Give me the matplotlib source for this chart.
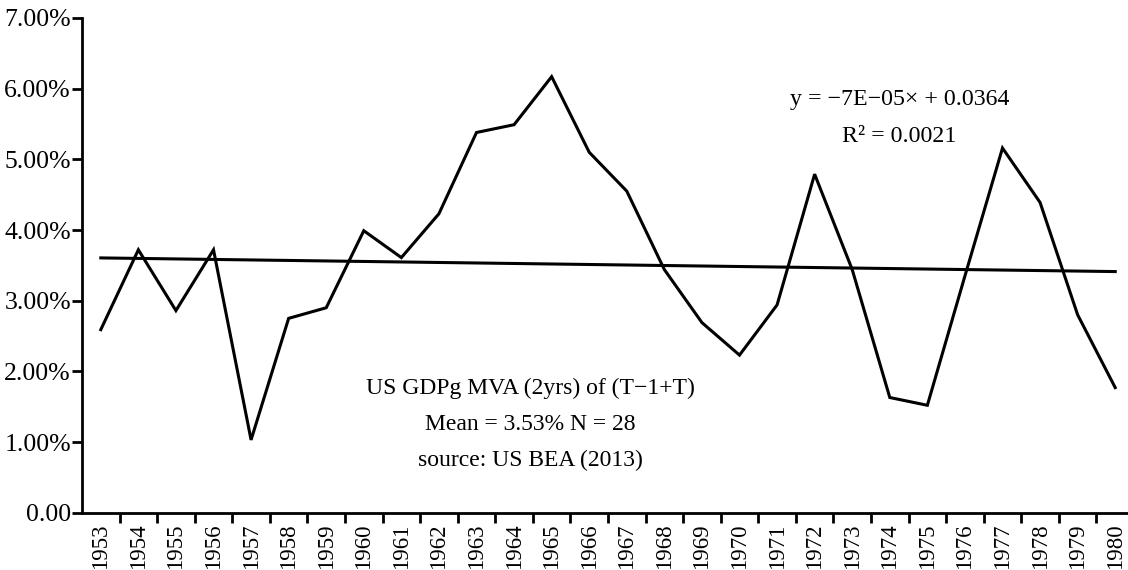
import matplotlib
matplotlib.use("Agg")
import matplotlib.pyplot as plt
import numpy as np
from matplotlib.ticker import FuncFormatter, FixedLocator

plt.rcParams["font.family"] = ["Liberation Serif", "DejaVu Serif"]

years = list(range(1953, 1981))
gdp_mva = [2.59, 3.72, 2.86, 3.72, 1.03, 2.75, 2.90, 3.99, 3.61, 4.23,
           5.38, 5.49, 6.17, 5.10, 4.55, 3.44, 2.69, 2.23, 2.94, 4.79,
           3.44, 1.63, 1.52, 3.35, 5.16, 4.39, 2.80, 1.77]
y_ticks = [0, 1, 2, 3, 4, 5, 6, 7]

W, H = 1128, 570
fig = plt.figure(figsize=(W / 100, H / 100), dpi=100)
ax = fig.add_axes([82 / W, 1 - 512.7 / H, (1134 - 82) / W, (512.7 - 18) / H])

x = np.arange(len(years))
vals = np.array(gdp_mva) / 100
ax.plot(x, vals, color="black", lw=2.2, solid_joinstyle="miter")

# linear trend (Excel style, x = 1..N)
k, b = np.polyfit(x + 1, vals, 1)
ax.plot(x, k * (x + 1) + b, color="black", lw=2.2)

ax.set_xlim(-0.5, len(years) - 0.5)
ax.set_ylim(0, 0.07)
ax.set_yticks([t / 100 for t in y_ticks])
ax.yaxis.set_major_formatter(FuncFormatter(lambda v, p: "0.00" if v == 0 else f"{v * 100:.2f}%"))

ax.set_xticks(x)
ax.set_xticklabels([str(y) for y in years], rotation=90)
ax.xaxis.set_minor_locator(FixedLocator(x[:-1] + 0.5))
ax.tick_params(axis="x", which="major", length=0, pad=8, labelsize=16.5)
ax.tick_params(axis="x", which="minor", length=7, width=2, direction="out")
ax.tick_params(axis="y", length=7, width=2, labelsize=18.5, pad=1)

for s in ["top", "right"]:
    ax.spines[s].set_visible(False)
for s in ["left", "bottom"]:
    ax.spines[s].set_linewidth(2)

fig.text(900 / W, 1 - 100 / H, "y = \u22127E\u221205\u00d7 + 0.0364", ha="center", va="center", fontsize=17.2)
fig.text(899 / W, 1 - 137 / H, "R\u00b2 = 0.0021", ha="center", va="center", fontsize=17.2)

fig.text(530 / W, 1 - 388 / H, "US GDPg MVA (2yrs) of (T\u22121+T)", ha="center", va="center", fontsize=17)
fig.text(530 / W, 1 - 424 / H, "Mean = 3.53% N = 28", ha="center", va="center", fontsize=17)
fig.text(530 / W, 1 - 460 / H, "source: US BEA (2013)", ha="center", va="center", fontsize=17)

fig.savefig("out.png", dpi=100)
